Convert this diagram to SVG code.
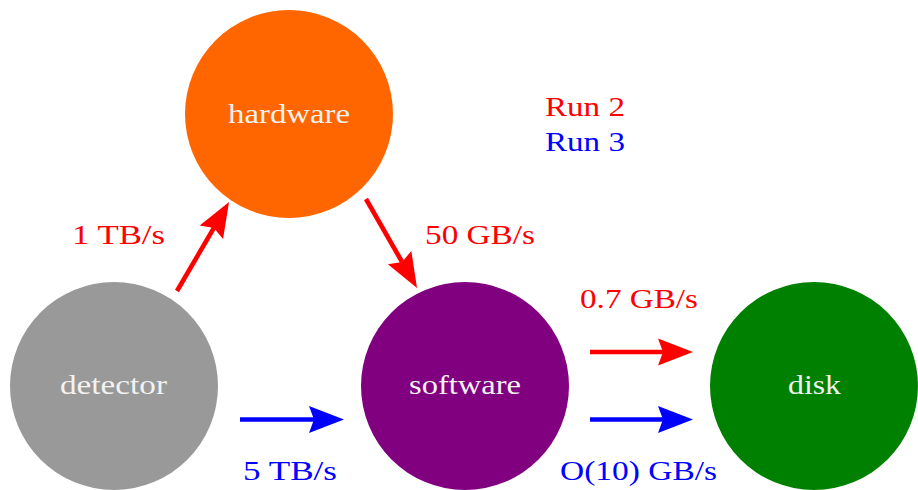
<svg xmlns="http://www.w3.org/2000/svg" width="918" height="490" viewBox="0 0 918 490">
<style>
.node-label{font-family:"Liberation Serif","Times New Roman",serif;font-size:28px;fill:#f2f2f2}
.lbl{font-family:"Liberation Serif","Times New Roman",serif;font-size:28px}
.red{fill:#ff0000}
.blue{fill:#0000ff}
.conn{stroke-width:4.6;fill:none;stroke-linecap:butt}
</style>
<defs>
<marker id="headR" markerUnits="userSpaceOnUse" markerWidth="36" markerHeight="28" refX="5" refY="13.5" orient="auto" overflow="visible">
<path d="M0,0 L35,13.5 L0,27 L5,13.5 Z" fill="#ff0000"/>
</marker>
<marker id="headB" markerUnits="userSpaceOnUse" markerWidth="36" markerHeight="28" refX="5" refY="13.5" orient="auto" overflow="visible">
<path d="M0,0 L35,13.5 L0,27 L5,13.5 Z" fill="#0000ff"/>
</marker>
</defs>
<rect width="918" height="490" fill="#ffffff"/>
<g id="hardware">
<circle cx="289" cy="114" r="104" fill="#ff6600"/>
<text class="node-label" x="228" y="123" textLength="122" lengthAdjust="spacingAndGlyphs">hardware</text>
</g>
<g id="detector">
<circle cx="114" cy="386" r="104" fill="#999999"/>
<text class="node-label" x="60" y="394" textLength="107" lengthAdjust="spacingAndGlyphs">detector</text>
</g>
<g id="software">
<circle cx="465" cy="386" r="104" fill="#800080"/>
<text class="node-label" x="409" y="394" textLength="112" lengthAdjust="spacingAndGlyphs">software</text>
</g>
<g id="disk">
<circle cx="814" cy="386" r="104" fill="#008000"/>
<text class="node-label" x="788" y="394" textLength="53" lengthAdjust="spacingAndGlyphs">disk</text>
</g>
<g id="connectors">
<line class="conn" x1="177" y1="291" x2="213.9" y2="227.9" stroke="#ff0000" marker-end="url(#headR)"/>
<line class="conn" x1="366" y1="199" x2="402.1" y2="262" stroke="#ff0000" marker-end="url(#headR)"/>
<line class="conn" x1="240" y1="419.5" x2="314" y2="419.5" stroke="#0000ff" marker-end="url(#headB)"/>
<line class="conn" x1="590" y1="352" x2="663" y2="352" stroke="#ff0000" marker-end="url(#headR)"/>
<line class="conn" x1="590" y1="419.5" x2="663" y2="419.5" stroke="#0000ff" marker-end="url(#headB)"/>
</g>
<g id="labels">
<text class="lbl red" x="72" y="244" textLength="93" lengthAdjust="spacingAndGlyphs">1 TB/s</text>
<text class="lbl red" x="425" y="244" textLength="110" lengthAdjust="spacingAndGlyphs">50 GB/s</text>
<text class="lbl red" x="580" y="308" textLength="118" lengthAdjust="spacingAndGlyphs">0.7 GB/s</text>
<text class="lbl blue" x="243" y="480" textLength="94" lengthAdjust="spacingAndGlyphs">5 TB/s</text>
<text class="lbl blue" x="560" y="480" textLength="157" lengthAdjust="spacingAndGlyphs">O(10) GB/s</text>
<text class="lbl red" x="545" y="116" textLength="80" lengthAdjust="spacingAndGlyphs">Run 2</text>
<text class="lbl blue" x="545" y="151" textLength="80" lengthAdjust="spacingAndGlyphs">Run 3</text>
</g>
</svg>
